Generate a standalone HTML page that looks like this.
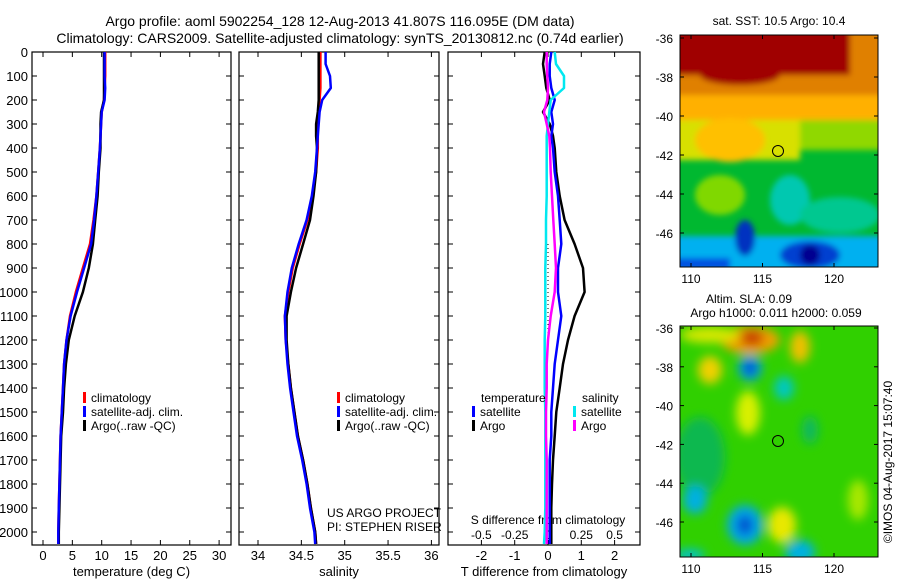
<!DOCTYPE html>
<html><head><meta charset="utf-8"><style>
body{margin:0;background:#fff;}
svg{display:block;font-family:"Liberation Sans",sans-serif;}
</style></head><body>
<svg id="s" width="900" height="580" viewBox="0 0 900 580">
<defs>
<filter id="bl" x="-20%" y="-20%" width="140%" height="140%"><feGaussianBlur stdDeviation="5"/></filter>
<filter id="bl2" x="-20%" y="-20%" width="140%" height="140%"><feGaussianBlur stdDeviation="3"/></filter>
<clipPath id="c1"><rect x="680" y="35" width="198" height="232"/></clipPath>
<clipPath id="c2"><rect x="680" y="326" width="198" height="231"/></clipPath>
</defs>
<text x="340" y="26" text-anchor="middle" font-size="14">Argo profile: aoml 5902254_128 12-Aug-2013 41.807S 116.095E (DM data)</text>
<text x="340" y="43" text-anchor="middle" font-size="14">Climatology: CARS2009. Satellite-adjusted climatology: synTS_20130812.nc (0.74d earlier)</text>

<g clip-path="url(#c1)">
<rect x="680" y="35" width="198" height="232" fill="#00b830"/>
<g filter="url(#bl2)">
<rect x="670" y="25" width="220" height="75" fill="#e08000"/>
<rect x="670" y="25" width="180" height="50" fill="#a00000"/>
<ellipse cx="740" cy="75" rx="40" ry="10" fill="#a00000"/>
<rect x="670" y="95" width="220" height="35" fill="#ffb000"/>
<rect x="670" y="120" width="130" height="40" fill="#d8e000"/>
<ellipse cx="730" cy="140" rx="35" ry="22" fill="#ffc000"/>
<rect x="800" y="120" width="90" height="30" fill="#90d800"/>
<ellipse cx="720" cy="195" rx="25" ry="20" fill="#80d800"/>
<ellipse cx="790" cy="200" rx="20" ry="25" fill="#00c8b0"/>
<ellipse cx="840" cy="215" rx="40" ry="18" fill="#00c890"/>
<rect x="670" y="236" width="220" height="40" fill="#00b0f0"/>
<ellipse cx="745" cy="238" rx="10" ry="18" fill="#0030c0"/>
<ellipse cx="810" cy="255" rx="30" ry="14" fill="#0040d0"/>
<ellipse cx="810" cy="255" rx="10" ry="10" fill="#000090"/>
<rect x="670" y="258" width="60" height="12" fill="#0050e0"/>
</g>
</g>
<rect x="680" y="35" width="198" height="232" fill="none" stroke="#000"/>
<circle cx="778" cy="151" r="5.5" fill="none" stroke="#000"/>
<text x="779" y="25" text-anchor="middle" font-size="12">sat. SST: 10.5 Argo: 10.4</text>

<g clip-path="url(#c2)">
<rect x="680" y="326" width="198" height="231" fill="#30d000"/>
<g filter="url(#bl)">
<ellipse cx="750" cy="340" rx="30" ry="14" fill="#f0a000"/>
<ellipse cx="752" cy="338" rx="12" ry="8" fill="#c84000"/>
<ellipse cx="800" cy="347" rx="10" ry="16" fill="#f0c000"/>
<ellipse cx="710" cy="335" rx="30" ry="8" fill="#d8e800"/>
<ellipse cx="710" cy="370" rx="12" ry="14" fill="#f0d000"/>
<ellipse cx="750" cy="368" rx="12" ry="13" fill="#00a0e0"/>
<ellipse cx="750" cy="368" rx="6" ry="7" fill="#0040d0"/>
<ellipse cx="784" cy="388" rx="10" ry="12" fill="#00c8c0"/>
<ellipse cx="748" cy="413" rx="12" ry="22" fill="#d8f000"/>
<ellipse cx="700" cy="457" rx="25" ry="40" fill="#10b850"/>
<ellipse cx="810" cy="430" rx="8" ry="14" fill="#10b860"/>
<ellipse cx="695" cy="500" rx="12" ry="14" fill="#00b0e0"/>
<ellipse cx="745" cy="525" rx="18" ry="20" fill="#00a8e8"/>
<ellipse cx="745" cy="525" rx="8" ry="10" fill="#0050d0"/>
<ellipse cx="782" cy="525" rx="14" ry="18" fill="#e8e800"/>
<ellipse cx="800" cy="552" rx="15" ry="12" fill="#00b0e0"/>
<ellipse cx="690" cy="555" rx="15" ry="6" fill="#00c0d0"/>
<ellipse cx="858" cy="500" rx="10" ry="20" fill="#a8e800"/>
</g>
</g>
<rect x="680" y="326" width="198" height="231" fill="none" stroke="#000"/>
<circle cx="778" cy="441" r="5.5" fill="none" stroke="#000"/>
<text x="749" y="303" text-anchor="middle" font-size="12">Altim. SLA: 0.09</text>
<text x="776" y="317" text-anchor="middle" font-size="12">Argo h1000: 0.011 h2000: 0.059</text>
<text transform="translate(892,462) rotate(-90)" text-anchor="middle" font-size="12">©IMOS 04-Aug-2017 15:07:40</text>
<g id="mapaxes"></g>
<g id="plots"></g>
</svg>
<script>
const depths=[0,50,100,150,200,250,300,350,400,500,600,700,800,900,1000,1100,1200,1300,1400,1500,1600,1700,1800,1900,2000,2050];
const tempClim=[10.6,10.6,10.6,10.5,10.4,10.0,9.9,9.8,9.7,9.4,9.1,8.6,8.0,6.8,5.6,4.6,4.0,3.6,3.4,3.2,3.0,2.9,2.8,2.7,2.6,2.6];
const tempSat=[10.5,10.5,10.5,10.6,10.5,10.0,9.9,9.8,9.7,9.4,9.1,8.7,8.2,7.0,5.8,4.7,4.0,3.6,3.4,3.2,3.0,2.9,2.8,2.7,2.6,2.6];
const tempArgo=[10.4,10.4,10.4,10.4,10.4,9.9,9.8,9.8,9.8,9.5,9.3,8.9,8.5,7.8,6.8,5.4,4.4,3.9,3.6,3.4,3.1,3.0,2.9,2.8,2.7,2.7];
const salClim=[34.72,34.72,34.72,34.72,34.71,34.70,34.69,34.69,34.69,34.67,34.63,34.57,34.48,34.40,34.35,34.31,34.32,34.35,34.38,34.42,34.46,34.52,34.57,34.61,34.66,34.67];
const salSat=[34.78,34.78,34.83,34.84,34.74,34.71,34.70,34.69,34.68,34.66,34.62,34.56,34.47,34.39,34.34,34.31,34.32,34.34,34.37,34.41,34.45,34.51,34.56,34.60,34.65,34.66];
const salArgo=[34.70,34.70,34.70,34.70,34.70,34.69,34.67,34.67,34.68,34.67,34.64,34.60,34.52,34.44,34.38,34.33,34.33,34.35,34.38,34.42,34.46,34.52,34.57,34.61,34.66,34.67];
const tDiffSat=[0.1,0.05,0.05,0.1,0.2,0.1,0.15,0.1,0.15,0.2,0.3,0.35,0.4,0.3,0.3,0.4,0.3,0.2,0.15,0.1,0.1,0.05,0.05,0.05,0.05,0.05];
const tDiffArgo=[-0.1,-0.15,-0.1,-0.05,0.05,-0.15,0.05,0.15,0.2,0.25,0.35,0.5,0.8,1.05,1.1,0.8,0.6,0.45,0.35,0.25,0.2,0.15,0.12,0.1,0.1,0.1];
const sDiffSat=[0.05,0.06,0.12,0.12,0.02,0.01,0.0,-0.01,-0.01,-0.01,-0.01,-0.015,-0.015,-0.02,-0.02,-0.02,-0.025,-0.025,-0.025,-0.02,-0.02,-0.02,-0.02,-0.02,-0.025,-0.03];
const sDiffArgo=[-0.01,-0.01,-0.005,0.0,-0.005,-0.03,-0.01,0.01,0.015,0.02,0.03,0.04,0.05,0.06,0.05,0.02,0.0,-0.01,-0.01,-0.015,-0.015,-0.01,-0.01,-0.01,-0.01,-0.01];
const depthTicks=[0,100,200,300,400,500,600,700,800,900,1000,1100,1200,1300,1400,1500,1600,1700,1800,1900,2000];
const tempTicks=[0,5,10,15,20,25,30];
const salTicks=["34","34.5","35","35.5","36"];
const tdTicks=[-2,-1,0,1,2];
const sdTicks=["-0.5","-0.25","0","0.25","0.5"];
const latTicks=[-36,-38,-40,-42,-44,-46];
const lonTicks=[110,115,120];

const NS='http://www.w3.org/2000/svg';
const S=document.getElementById('plots');
function el(tag,a,p,q){
  let parent=S,txt;
  [p,q].forEach(v=>{if(typeof v==='string')txt=v;else if(v&&typeof v==='object')parent=v;});
  const e=document.createElementNS(NS,tag);
  for(const k in a)e.setAttribute(k,a[k]);
  if(txt!==undefined)e.textContent=txt;
  parent.appendChild(e);return e;
}
const yD=d=>52+d*0.24;
const xT=v=>43+v*5.87;
const xS=v=>258+(v-34)*86.7;
const xTD=v=>548+v*33.3;
const xSD=v=>548+v*4*33.3;
const TOP=52,BOT=545;

function panel(x0,x1,name){
  const r=el('rect',{x:x0,y:TOP,width:x1-x0,height:BOT-TOP,fill:'none',stroke:'#000','stroke-width':1.2});
  
  
  depthTicks.forEach(d=>{el('line',{x1:x0,x2:x0+5,y1:yD(d),y2:yD(d),stroke:'#000'});el('line',{x1:x1-5,x2:x1,y1:yD(d),y2:yD(d),stroke:'#000'});});
}
function xticks(vals,fx,x0,x1,labels,title){
  vals.forEach((v,i)=>{const x=fx(v);
    el('line',{x1:x,x2:x,y1:TOP,y2:TOP+5,stroke:'#000'});el('line',{x1:x,x2:x,y1:BOT-5,y2:BOT,stroke:'#000'});
    const t=el('text',{x:x,y:560,'text-anchor':'middle','font-size':13},labels[i]);
    
    
  });
  const t=el('text',{x:(x0+x1)/2,y:576,'text-anchor':'middle','font-size':13},title);
  
  
}
function line(vals,fx,color,name){
  const pts=vals.map((v,i)=>fx(v).toFixed(1)+','+yD(depths[i]).toFixed(1)).join(' ');
  const p=el('polyline',{points:pts,fill:'none',stroke:color,'stroke-width':2.5,'stroke-linejoin':'round'});
  
  
}
function legend(x,y,color,label){
  el('rect',{x:x,y:y-10,width:3,height:11,fill:color});
  const t=el('text',{x:x+8,y:y,'font-size':12},label);
  
  
}
depthTicks.forEach(d=>{const t=el('text',{x:28,y:yD(d)+5,'text-anchor':'end','font-size':13},String(d));
  
  });

panel(32,231,'temperature-panel');
xticks(tempTicks,xT,32,231,tempTicks.map(String),'temperature (deg C)');
line(tempClim,xT,'#ff0000','temp-climatology-line');
line(tempArgo,xT,'#000000','temp-argo-line');
line(tempSat,xT,'#0000ff','temp-satellite-line');
legend(83,402,'#ff0000','climatology');legend(83,416,'#0000ff','satellite-adj. clim.');legend(83,430,'#000000','Argo(..raw -QC)');

panel(239,439,'salinity-panel');
xticks(salTicks.map(Number),xS,239,439,salTicks,'salinity');
line(salClim,xS,'#ff0000','sal-climatology-line');
line(salArgo,xS,'#000000','sal-argo-line');
line(salSat,xS,'#0000ff','sal-satellite-line');
legend(337,402,'#ff0000','climatology');legend(337,416,'#0000ff','satellite-adj. clim.');legend(337,430,'#000000','Argo(..raw -QC)');
let t=el('text',{x:327,y:517,'font-size':12},'US ARGO PROJECT');
t=el('text',{x:327,y:531,'font-size':12},'PI: STEPHEN RISER');

panel(448,640,'difference-panel');
xticks(tdTicks,xTD,448,640,tdTicks.map(String),'T difference from climatology');
sdTicks.forEach(v=>{const s=el('text',{x:xSD(Number(v)),y:539,'text-anchor':'middle','font-size':12},v);
  
  });
t=el('text',{x:548,y:524,'text-anchor':'middle','font-size':12},'S difference from climatology');
el('line',{x1:548,x2:548,y1:yD(800),y2:yD(1200),stroke:'#000','stroke-dasharray':'1,3'});
line(tDiffArgo,xTD,'#000000','tdiff-argo-line');
line(tDiffSat,xTD,'#0000ff','tdiff-satellite-line');
line(sDiffSat,xSD,'#00e8f0','sdiff-satellite-line');
line(sDiffArgo,xSD,'#ff00ff','sdiff-argo-line');
t=el('text',{x:481,y:402,'font-size':12},'temperature');
t=el('text',{x:582,y:402,'font-size':12},'salinity');
legend(472,416,'#0000ff','satellite');legend(472,430,'#000000','Argo');
legend(573,416,'#00e8f0','satellite');legend(573,430,'#ff00ff','Argo');

const M=document.getElementById('mapaxes');
function mapAxes(y0,y1,latY,name){
  latTicks.forEach(v=>{const y=latY(v);
    el('line',{x1:680,x2:684,y1:y,y2:y,stroke:'#000'},M);el('line',{x1:874,x2:878,y1:y,y2:y,stroke:'#000'},M);
    const tt=el('text',{x:673,y:y+5,'text-anchor':'end','font-size':12},String(v),M);
    
    });
  lonTicks.forEach(v=>{const x=691+(v-110)*14.3;
    el('line',{x1:x,x2:x,y1:y0,y2:y0+4,stroke:'#000'},M);el('line',{x1:x,x2:x,y1:y1-4,y2:y1,stroke:'#000'},M);
    const tt=el('text',{x:x,y:y1+16,'text-anchor':'middle','font-size':12},String(v),M);
    
    });
}
mapAxes(35,267,v=>38+(-36-v)*19.5,'sst-map');
mapAxes(326,557,v=>328+(-36-v)*19.4,'sla-map');
</script>
</body></html>
